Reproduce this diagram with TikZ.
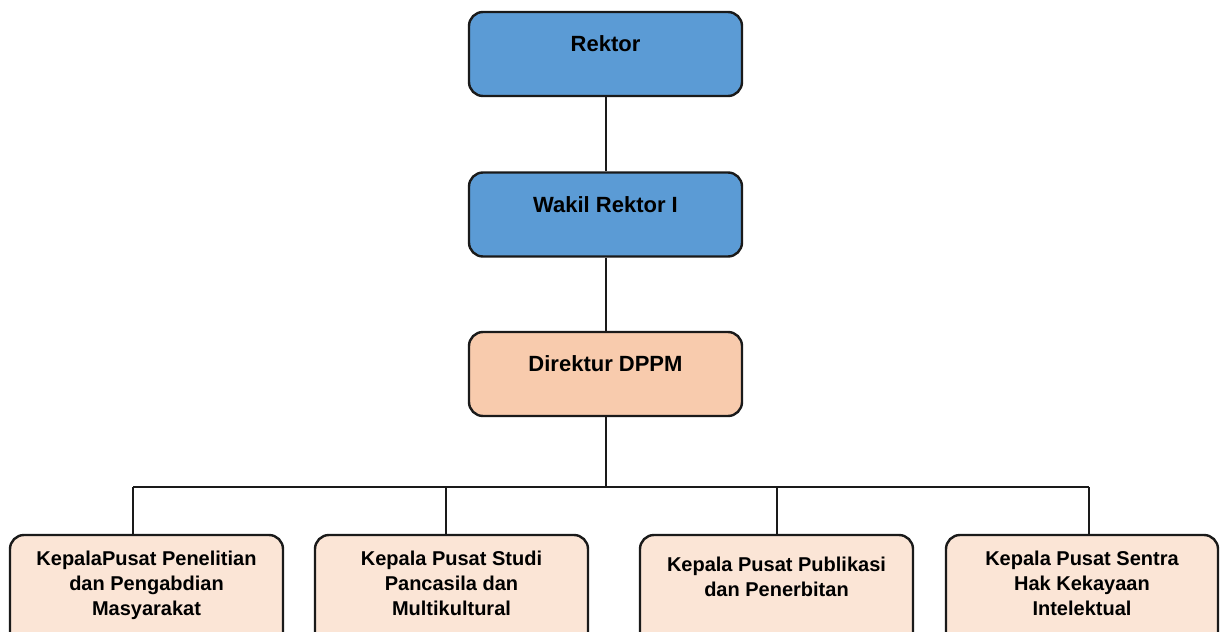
\documentclass[tikz,border=0pt]{standalone}
\usepackage{fontspec}
\setmainfont{Liberation Sans}
\usepackage{xcolor}
\definecolor{rekblue}{HTML}{5B9BD5}
\definecolor{dirorange}{HTML}{F8CBAD}
\definecolor{kepcream}{HTML}{FBE5D6}
\definecolor{lineblack}{HTML}{1A1A1A}

\begin{document}
\begin{tikzpicture}[x=1pt, y=1pt]
                        % units are pixels of the reference, y runs downwards as negative
                        \tikzstyle{box}=[draw=lineblack, line width=2.4pt, rounded corners=14pt,
                                minimum width=273pt, minimum height=84pt, inner sep=0pt]
                        \tikzstyle{kbox}=[box, fill=kepcream, minimum height=120pt]
                        \tikzstyle{txt}=[anchor=north, inner sep=0pt, align=center,
                                font=\fontsize{20}{25}\selectfont\bfseries]
                        \tikzstyle{toptxt}=[txt, font=\fontsize{22}{27}\selectfont\bfseries]
                        \tikzstyle{conn}=[draw=lineblack, line width=2pt]
                        \useasboundingbox (0,0) rectangle (1224,-632);
                        \clip (0,0) rectangle (1224,-632);

                        \node[box, fill=rekblue] (rektor) at (605.5,-54) {};
                        \node[toptxt] (rektor-t) at ([yshift=-25pt]rektor.north) {Rektor};
                        \node[box, fill=rekblue] (wakil) at (605.5,-214.5) {};
                        \node[toptxt] (wakil-t) at ([yshift=-25pt]wakil.north) {Wakil Rektor I};
                        \node[box, fill=dirorange] (dir) at (605.5,-374) {};
                        \node[toptxt] (dir-t) at ([yshift=-25pt]dir.north) {Direktur DPPM};

                        \node[kbox] (kp1) at (146.5,-595) {};
                        \node[txt] (kp1-t) at ([yshift=-17pt]kp1.north)
                                {KepalaPusat Penelitian\\dan Pengabdian\\Masyarakat};
                        \node[kbox] (kp2) at (451.5,-595) {};
                        \node[txt] (kp2-t) at ([yshift=-17pt]kp2.north)
                                {Kepala Pusat Studi\\Pancasila dan\\Multikultural};
                        \node[kbox] (kp3) at (776.5,-595) {};
                        \node[txt] (kp3-t) at ([yshift=-23pt]kp3.north)
                                {Kepala Pusat Publikasi\\dan Penerbitan};
                        \node[kbox, minimum width=272pt] (kp4) at (1082,-595) {};
                        \node[txt] (kp4-t) at ([yshift=-17pt]kp4.north)
                                {Kepala Pusat Sentra\\Hak Kekayaan\\Intelektual};

                        % bus line below the director
                        \coordinate (bus) at (605.5,-487);
                        \coordinate (bus1) at (133,-487);
                        \coordinate (bus2) at (446,-487);
                        \coordinate (bus3) at (777,-487);
                        \coordinate (bus4) at (1089,-487);

                        \draw[conn] (rektor) -- (wakil);
                        \draw[conn] (wakil) -- (dir);
                        \draw[conn] (dir.south) -- (bus);
                        \draw[conn] (bus1) -- (bus4);
                        \draw[conn] (bus1) -- (bus1 |- kp1.north);
                        \draw[conn] (bus2) -- (bus2 |- kp2.north);
                        \draw[conn] (bus3) -- (bus3 |- kp3.north);
                        \draw[conn] (bus4) -- (bus4 |- kp4.north);
                \end{tikzpicture}
\end{document}
